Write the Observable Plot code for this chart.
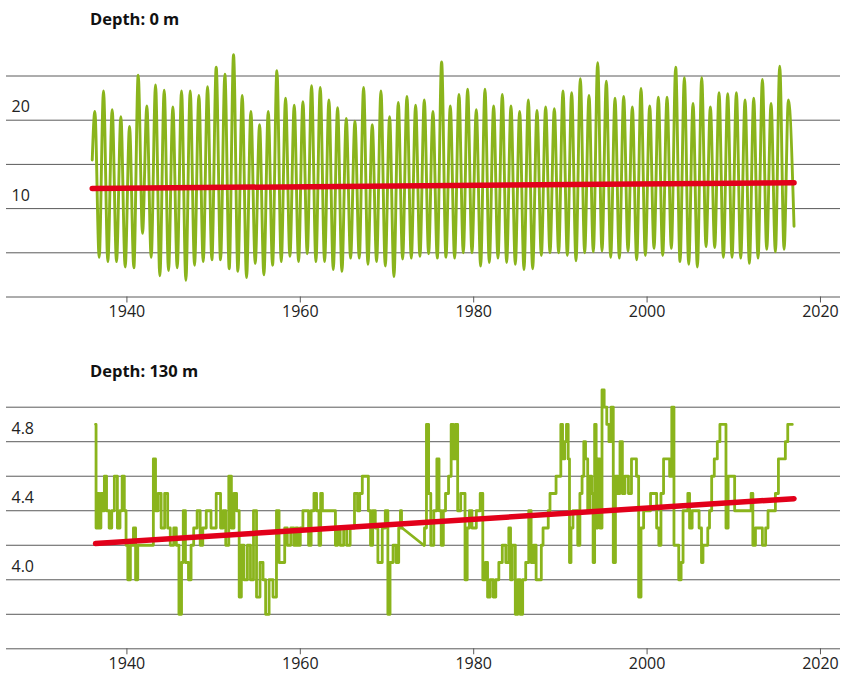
<!DOCTYPE html>
<html><head><meta charset="utf-8">
<script src="https://cdn.jsdelivr.net/npm/d3@7"></script>
<script src="https://cdn.jsdelivr.net/npm/@observablehq/plot@0.6"></script>
<style>
body{margin:0;background:#fff;font-family:"Open Sans",sans-serif;}
#wrap{position:relative;width:842px;height:675px;overflow:hidden;}
.ttl{position:absolute;left:90px;font-weight:700;font-size:16.5px;line-height:20px;color:#111;}
.chart{position:absolute;left:0;}
</style></head><body>
<div id="wrap">
<div class="ttl" style="top:9px">Depth: 0 m</div>
<div class="chart" id="c1" style="top:30px"></div>
<div class="ttl" style="top:361px">Depth: 130 m</div>
<div class="chart" id="c2" style="top:380px"></div>
</div>
<script>
// ---------- data: surface (0 m) ----------
const surfaceStartYear = 1936;
const surfaceFirst = 15.5;   // first reading
const surfaceLast = 8.0;     // last reading
const surfaceSummerMax = [
  21.0,23.3,21.2,20.4,19.3,25.1,21.6,24.0,23.4,21.5,
  23.3,23.3,22.8,23.8,26.0,25.2,27.4,22.8,21.0,19.5,
  21.0,25.6,22.5,21.7,22.1,23.9,23.7,22.3,21.4,20.2,
  19.9,23.7,19.5,23.3,20.4,22.0,22.7,21.7,22.3,21.0,
  26.6,21.6,22.9,23.5,21.2,23.5,21.6,22.9,21.6,21.0,
  22.3,21.1,21.5,21.3,23.3,23.1,24.7,22.8,26.5,24.4,
  22.5,22.7,21.5,23.6,21.6,22.6,22.6,26.0,24.8,21.9,
  24.8,21.5,23.1,23.0,23.1,22.3,22.5,24.6,21.9,26.1,
  22.3];
const surfaceWinterMin = [
  4.5,4.0,4.0,3.4,3.3,7.2,4.5,2.4,3.0,3.3,
  1.9,3.6,4.0,4.2,4.2,3.2,2.9,2.2,3.8,2.5,
  3.6,4.0,4.6,4.0,4.9,4.0,4.0,3.1,2.9,4.4,
  4.4,3.7,4.0,3.5,2.3,4.3,4.4,4.6,4.9,4.4,
  4.5,4.4,5.0,5.0,3.5,3.9,4.4,3.9,3.7,3.1,
  3.2,4.7,5.0,5.0,4.7,4.1,5.0,5.1,5.2,4.5,
  4.4,5.2,4.2,4.7,5.5,4.7,5.5,4.0,3.7,3.4,
  5.7,5.6,4.5,4.5,4.4,3.8,4.4,5.4,5.1,5.4];
const surfaceTrendYears = [1936.0, 2016.95];
const surfaceTrend = [12.28, 12.92];

// ---------- data: 130 m ----------
const deepYears = [
1936.38,1936.5,1936.7,1936.9,1937.1,1937.3,1937.5,1937.8,1938.1,1938.4,1938.7,1939.1,1939.3,1939.6,1939.8,
1940.0,1940.2,1940.6,1940.9,1941.1,1941.4,1942.3,1942.9,1943.2,1943.4,1943.8,1944.1,1944.6,1944.8,1945.2,
1945.6,1945.8,1946.2,1946.4,1946.6,1946.9,1947.3,1947.5,1947.9,1948.3,1948.6,1948.9,1949.4,1950.0,1950.6,
1951.0,1951.2,1951.6,1951.9,1952.2,1952.5,1952.8,1953.1,1953.3,1953.7,1954.1,1954.4,1954.8,1955.1,1955.6,
1955.8,1956.2,1956.6,1957.1,1957.4,1957.7,1958.1,1958.3,1958.7,1959.1,1959.4,1959.6,1959.8,1960.2,1960.4,
1960.8,1961.1,1961.4,1961.75,1962.0,1962.3,1962.4,1962.7,1963.9,1964.2,1964.4,1964.8,1965.2,1965.5,1966.0,
1966.5,1966.7,1967.0,1967.3,1967.7,1968.0,1968.2,1968.5,1968.8,1969.1,1969.3,1969.6,1970.0,1970.2,1970.5,
1970.9,1971.2,1971.5,1971.6,1971.75,1974.25,1974.4,1974.7,1974.9,1975.2,1975.6,1975.9,1976.1,1976.4,1976.6,
1976.9,1977.3,1977.5,1977.8,1978.0,1978.3,1978.7,1978.9,1979.1,1979.4,1979.6,1980.0,1980.6,1980.9,1981.2,
1981.5,1981.7,1982.1,1982.4,1982.7,1983.1,1983.5,1983.9,1984.2,1984.3,1984.6,1985.0,1985.2,1985.5,1985.8,
1986.2,1986.5,1986.75,1987.1,1987.3,1987.7,1987.9,1988.1,1988.5,1988.7,1988.9,1989.4,1989.6,1990.0,1990.1,
1990.4,1990.6,1990.8,1991.0,1991.1,1991.35,1991.55,1991.9,1992.1,1992.4,1992.6,1992.8,1993.0,1993.3,1993.5,
1993.7,1993.85,1994.05,1994.2,1994.4,1994.7,1994.9,1995.2,1995.5,1995.7,1996.0,1996.2,1996.5,1996.75,1997.0,
1997.3,1997.6,1998.1,1998.3,1998.7,1998.85,1999.2,1999.4,1999.8,2000.2,2000.6,2001.0,2001.2,2001.5,2001.7,
2002.1,2002.5,2002.7,2003.0,2003.2,2003.5,2003.8,2004.05,2004.25,2004.6,2004.8,2005.0,2005.4,2005.8,2006.2,
2006.35,2006.55,2006.9,2007.1,2007.3,2007.6,2007.9,2008.3,2008.5,2009.0,2009.2,2009.5,2010.0,2010.2,2011.9,
2012.1,2012.3,2012.7,2013.1,2013.5,2013.85,2014.05,2014.6,2015.0,2015.3,2015.8,2016.1,2016.35,2016.75];
const deepTemps = [
4.9,4.3,4.5,4.3,4.5,4.4,4.6,4.4,4.3,4.4,4.6,4.3,4.4,4.6,4.4,
4.2,4.0,4.2,4.3,4.0,4.2,4.2,4.2,4.7,4.4,4.5,4.3,4.5,4.3,4.2,
4.3,4.2,3.8,4.1,4.4,4.1,4.0,4.2,4.3,4.4,4.2,4.3,4.4,4.3,4.5,
4.3,4.4,4.2,4.6,4.3,4.5,4.4,3.9,4.2,4.0,4.2,4.0,4.4,3.9,4.1,
4.0,3.8,4.0,3.9,4.4,4.1,4.1,4.3,4.2,4.3,4.2,4.3,4.2,4.3,4.4,
4.4,4.2,4.4,4.5,4.4,4.2,4.5,4.4,4.4,4.2,4.3,4.2,4.3,4.2,4.3,
4.5,4.4,4.5,4.6,4.6,4.4,4.2,4.4,4.3,4.1,4.1,4.3,4.4,3.8,4.1,
4.2,4.1,4.3,4.4,4.3,4.2,4.3,4.9,4.5,4.2,4.4,4.7,4.4,4.2,4.4,
4.5,4.6,4.9,4.7,4.9,4.4,4.5,4.5,4.0,4.3,4.4,4.3,4.4,4.5,4.0,
4.1,3.9,4.0,3.9,4.0,4.1,4.2,4.1,4.3,4.0,4.2,3.8,4.0,3.8,4.0,
4.1,4.4,4.1,4.2,4.0,4.0,4.2,4.3,4.3,4.4,4.5,4.5,4.6,4.6,4.9,
4.7,4.8,4.9,4.7,4.1,4.3,4.4,4.4,4.2,4.5,4.6,4.8,4.7,4.4,4.6,
4.5,4.1,4.9,4.3,4.7,4.3,5.1,5.0,4.9,4.8,5.0,4.1,4.6,4.5,4.8,
4.5,4.6,4.5,4.7,4.7,4.6,3.9,4.3,4.4,4.4,4.5,4.5,4.3,4.2,4.5,
4.7,4.7,4.6,5.0,4.2,4.2,4.0,4.1,4.4,4.4,4.5,4.3,4.4,4.4,4.3,
4.1,4.2,4.2,4.3,4.4,4.6,4.7,4.8,4.9,4.9,4.3,4.6,4.6,4.4,4.4,
4.5,4.2,4.3,4.3,4.2,4.3,4.4,4.4,4.5,4.7,4.7,4.8,4.9,4.9];
const deepGapStart = 1971.75;  // no readings between these two dates
const deepGapEnd = 1974.25;
const deepTrendYears = [1936.38, 2016.95];
const deepTrend = [4.21, 4.47];

// ---------- axes ----------
const xTicks = [1940, 1960, 1980, 2000, 2020];
const surfaceGrid = [0, 5, 10, 15, 20, 25];
const surfaceLabels = [10, 20];
const deepGrid = [3.6, 3.8, 4.0, 4.2, 4.4, 4.6, 4.8, 5.0];
const deepLabels = [4.0, 4.4, 4.8];

// ---------- build tables ----------
const surface = [{t: surfaceStartYear, v: surfaceFirst}];
surfaceSummerMax.forEach((v, i) => {
  const yr = surfaceStartYear + i;
  surface.push({t: yr + 0.3, v});
  if (i < surfaceWinterMin.length) surface.push({t: yr + 0.8, v: surfaceWinterMin[i]});
});
surface.push({t: surfaceTrendYears[1], v: surfaceLast});
const surfaceTrendData = surfaceTrendYears.map((t, i) => ({t, v: surfaceTrend[i]}));
const deep = deepYears.map((t, i) => ({t, v: deepTemps[i], seg: t <= deepGapStart ? 0 : 1}));
const deepGap = deep.filter(d => d.t === deepGapStart || d.t === deepGapEnd);
const deepTrendData = deepTrendYears.map((t, i) => ({t, v: deepTrend[i]}));

function panel({seriesMarks, trend, grid, labels, fmt, yDomain, height, marginTop, marginBottom}) {
  return Plot.plot({
    width: 842, height, marginLeft: 6, marginRight: 2, marginTop, marginBottom,
    x: {domain: [1926.11, 2022.31], label: null},
    y: {domain: yDomain, axis: null, label: null},
    style: {fontFamily: "'Open Sans', sans-serif", fontSize: "16px", color: "#222", background: "transparent", overflow: "visible"},
    marks: [
      Plot.ruleY(grid, {stroke: "#5a5a5a", strokeWidth: 1}),
      Plot.text(labels, {y: d => d, text: fmt, frameAnchor: "left", textAnchor: "start", dx: 5, dy: -13, fontSize: 16, fill: "#222"}),
      Plot.axisX({ticks: xTicks, tickSize: 6, tickPadding: 3, tickFormat: d => String(d), stroke: "#5a5a5a", fontSize: 16, fill: "#222"}),
      ...seriesMarks,
      Plot.line(trend, {x: "t", y: "v", stroke: "#e2001a", strokeWidth: 5.5})
    ]
  });
}

const green = "#8ab41c";
document.getElementById("c1").append(panel({
  seriesMarks: [Plot.line(surface, {x: "t", y: "v", stroke: green, strokeWidth: 2.9, strokeLinejoin: "round", curve: "monotone-x"})],
  trend: surfaceTrendData, grid: surfaceGrid, labels: surfaceLabels,
  fmt: d => String(d), yDomain: [0, 25], height: 300, marginTop: 45.5, marginBottom: 33.5
}));
document.getElementById("c2").append(panel({
  seriesMarks: [
    Plot.line(deep, {x: "t", y: "v", z: "seg", stroke: green, strokeWidth: 2.8, strokeLinejoin: "round", curve: "step"}),
    Plot.line(deepGap, {x: "t", y: "v", stroke: green, strokeWidth: 2.8})
  ],
  trend: deepTrendData, grid: deepGrid, labels: deepLabels,
  fmt: d => d.toFixed(1), yDomain: [3.6, 5.0], height: 295, marginTop: 26.7, marginBottom: 26.7
}));
</script>
</body></html>
